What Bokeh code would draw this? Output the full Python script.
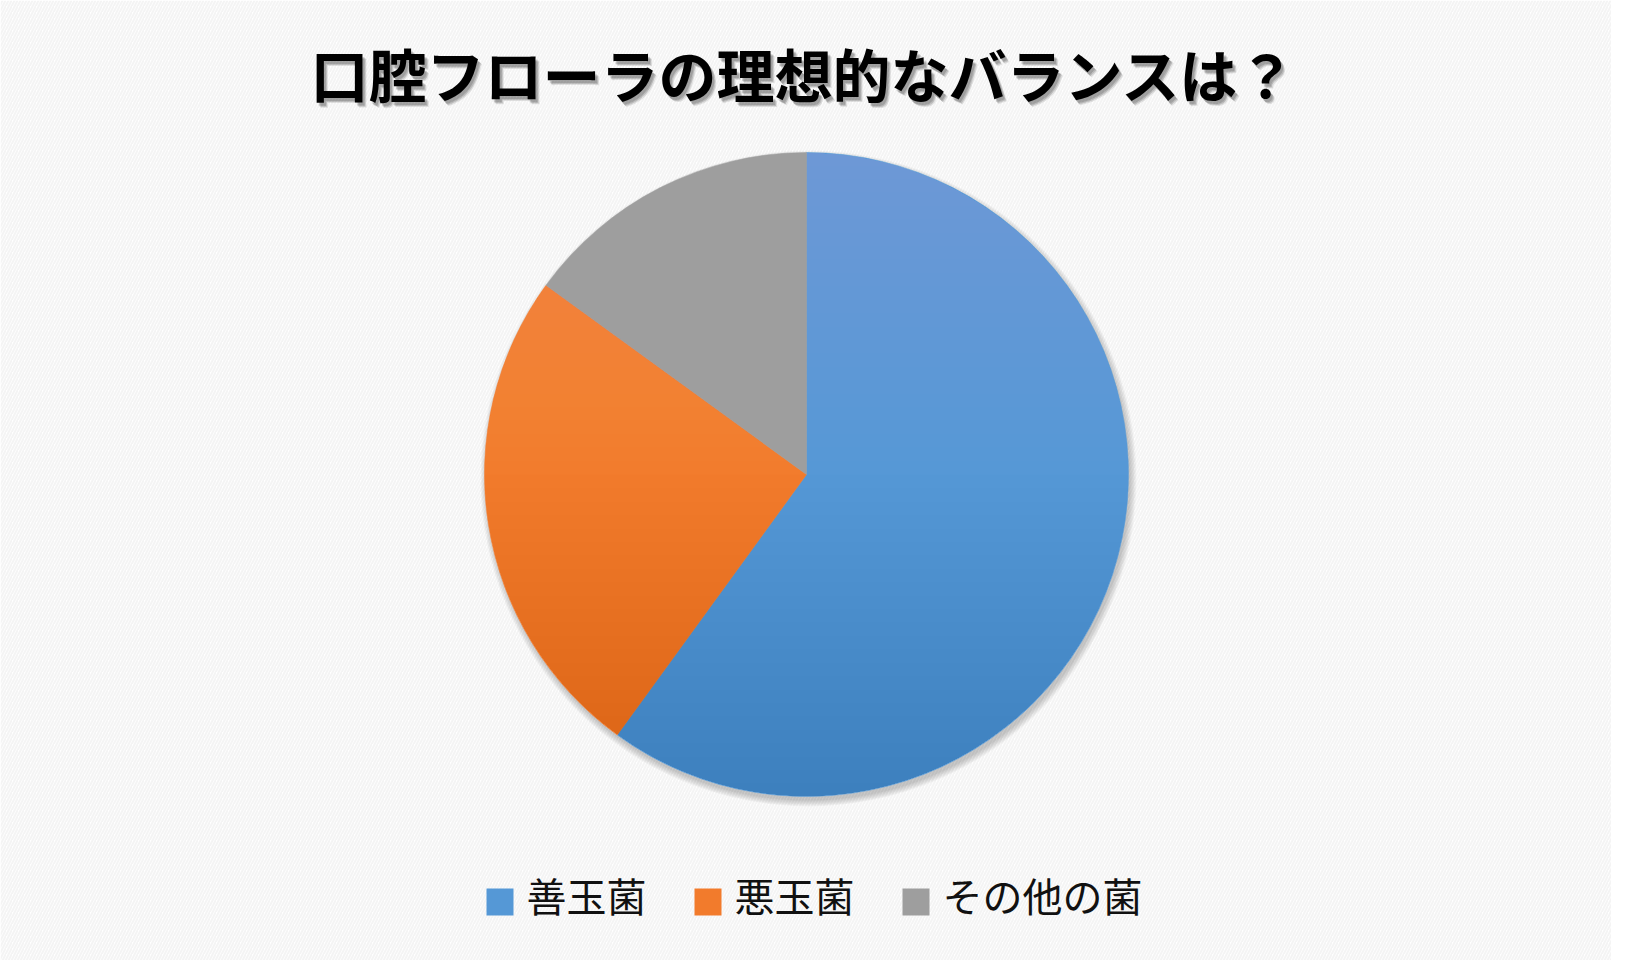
import numpy as np
from bokeh.plotting import figure
from bokeh.models import Range1d, ColumnDataSource, BoxAnnotation
from bokeh.core.properties import value
from bokeh.embed import file_html
from bokeh.resources import INLINE

# ---- data ----
title_text = "口腔フローラの理想的なバランスは？"
categories = ["善玉菌", "悪玉菌", "その他の菌"]
shares = [60, 25, 15]
colors = ["#5598d6", "#f27b2c", "#9e9e9e"]

# ---- layout ----
W, H = 1611, 960
CX, CY, R = 806, 486, 322
FONT = "Noto Sans CJK JP"

p = figure(width=W, height=H, x_range=Range1d(0, W), y_range=Range1d(0, H),
           output_backend="svg", toolbar_location=None,
           x_axis_location=None, y_axis_location=None, min_border=0)
p.grid.visible = False
p.outline_line_color = None
p.background_fill_color = "white"
p.border_fill_color = "white"

# striped background
p.add_layout(BoxAnnotation(left=0, right=W, bottom=0, top=H, fill_color="white",
                           fill_alpha=1, line_color=None, hatch_pattern="/",
                           hatch_color="#f4f4f4", hatch_weight=2, hatch_scale=6,
                           level="underlay"))

# pie shadow
for k in range(7):
    p.circle(x=CX + 2, y=CY - 4, radius=R + k, fill_color="black",
             fill_alpha=0.03, line_color=None)

# pie slices
frac = np.array(shares, dtype=float) / sum(shares)
cum = np.concatenate([[0], np.cumsum(frac)])
src = ColumnDataSource(dict(
    start=np.pi / 2 - 2 * np.pi * cum[:-1],
    end=np.pi / 2 - 2 * np.pi * cum[1:],
    color=colors, label=categories))
p.wedge(x=CX, y=CY, radius=R, start_angle="start", end_angle="end",
        direction="clock", fill_color="color", line_color="color",
        line_width=0.5, source=src)

# vertical shading (lighter top, darker bottom)
N = 24
for k in range(N):
    h = (k + 1) / N * R
    t0 = np.arcsin((R - h) / R)
    th = np.linspace(t0, np.pi - t0, 80)
    p.patch(CX + R * np.cos(th), CY + R * np.sin(th), fill_color="white",
            fill_alpha=0.18 / N, line_color=None)
    th2 = np.linspace(-t0, -np.pi + t0, 80)
    p.patch(CX + R * np.cos(th2), CY + R * np.sin(th2), fill_color="black",
            fill_alpha=0.10 / N, line_color=None)

# title with soft shadow
for dx, dy, a in [(4, -5, 0.10), (3, -4, 0.15), (2, -3, 0.15)]:
    p.text(x=[803 + dx], y=[888 + dy], text=[title_text], text_align="center",
           text_baseline="middle", text_font=value(FONT), text_font_size="58px",
           text_font_style="bold", text_color="black", text_alpha=a)
p.text(x=[803], y=[888], text=[title_text], text_align="center",
       text_baseline="middle", text_font=value(FONT), text_font_size="58px",
       text_font_style="bold", text_color="black")

# legend
SQ = 27
sq_x = [499.5 + i * 208 for i in range(len(categories))]
p.rect(x=sq_x, y=[58.5] * len(categories), width=SQ, height=SQ,
       fill_color=colors, line_color=None)
p.text(x=[x + SQ / 2 + 13 for x in sq_x], y=[66] * len(categories), text=categories,
       text_align="left", text_baseline="middle", text_font=value(FONT),
       text_font_size="40px", text_color="#111111")

open("out.html", "w").write(file_html(p, INLINE))
